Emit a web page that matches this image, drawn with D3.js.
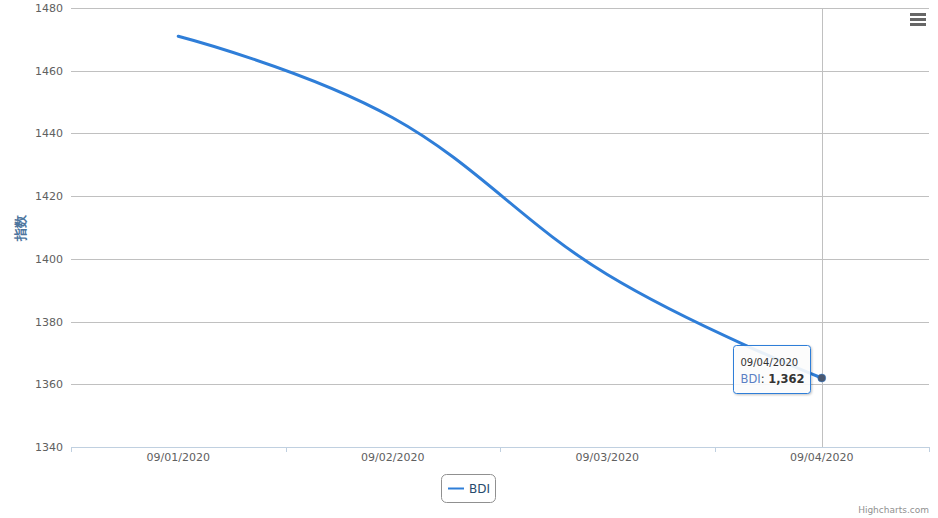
<!DOCTYPE html>
<html><head><meta charset="utf-8">
<script src="https://cdn.jsdelivr.net/npm/d3@7"></script>
<style>body{margin:0;background:#fff}svg{display:block;font-family:"DejaVu Sans",Verdana,Arial,sans-serif}</style>
</head><body>
<svg id="c" width="938" height="518"></svg>
<script>
const categories = ["09/01/2020","09/02/2020","09/03/2020","09/04/2020"];
const values = [1471, 1445, 1395, 1362];
const yTicks = [1340,1360,1380,1400,1420,1440,1460,1480];
const seriesName = "BDI";
const yTitle = "指数";

const W=938,H=518, L=71, R=929, T=8, B=447;
const svg=d3.select("#c");
const x=d3.scaleBand().domain(categories).range([L,R]);
const y=d3.scaleLinear().domain([1340,1480]).range([B,T]);
const cx=c=>x(c)+x.bandwidth()/2;

// grid
svg.append("g").selectAll("line").data(yTicks).join("line")
 .attr("x1",L).attr("x2",R).attr("y1",d=>Math.round(y(d))+0.5).attr("y2",d=>Math.round(y(d))+0.5)
 .attr("stroke","#C0C0C0").attr("stroke-width",1);
// y labels
svg.append("g").selectAll("text").data(yTicks).join("text")
 .attr("x",L-8).attr("y",d=>y(d)+4).attr("text-anchor","end")
 .attr("font-size",11).attr("fill","#606060").text(d=>d);
// y title
svg.append("text").attr("transform",`translate(${25},${(T+B)/2}) rotate(-90)`)
 .attr("text-anchor","middle").attr("font-size",13).attr("font-weight","bold").attr("fill","#4d759e").text(yTitle);

// x axis line & ticks
svg.append("line").attr("x1",L).attr("x2",R).attr("y1",B+0.5).attr("y2",B+0.5).attr("stroke","#C0D0E0");
const bounds=categories.map(c=>x(c)).concat([R]);
svg.append("g").selectAll("line").data(bounds).join("line")
 .attr("x1",d=>Math.round(d)+0.5).attr("x2",d=>Math.round(d)+0.5).attr("y1",B).attr("y2",B+5).attr("stroke","#C0D0E0");
svg.append("g").selectAll("text").data(categories).join("text")
 .attr("x",d=>cx(d)).attr("y",B+14).attr("text-anchor","middle").attr("font-size",11).attr("fill","#606060").text(d=>d);

// crosshair
const last=categories.length-1;
svg.append("line").attr("x1",Math.round(cx(categories[last]))+0.5).attr("x2",Math.round(cx(categories[last]))+0.5)
 .attr("y1",T).attr("y2",B).attr("stroke","#C0C0C0").attr("stroke-width",1);

// Highcharts-like spline
const pts=categories.map((c,i)=>({x:cx(c),y:y(values[i])}));
const sm=1.5, den=sm+1;
pts.forEach((p,i)=>{
  if(i>0 && i<pts.length-1){
    const a=pts[i-1], n=pts[i+1];
    let lx=(sm*p.x+a.x)/den, ly=(sm*p.y+a.y)/den, rx=(sm*p.x+n.x)/den, ry=(sm*p.y+n.y)/den;
    const corr=((ry-ly)*(rx-p.x))/(rx-lx)+p.y-ry;
    ly+=corr; ry+=corr;
    p.lx=lx;p.ly=ly;p.rx=rx;p.ry=ry;
  }
});
const path=d3.path();
pts.forEach((p,i)=>{
  if(i===0){path.moveTo(p.x,p.y);return;}
  const a=pts[i-1];
  path.bezierCurveTo(a.rx??a.x, a.ry??a.y, p.lx??p.x, p.ly??p.y, p.x, p.y);
});
svg.append("path").attr("d",path.toString()).attr("fill","none").attr("stroke","#2f7ed8")
 .attr("stroke-width",3).attr("stroke-linejoin","round").attr("stroke-linecap","round");

// hover marker
const lp=pts[last];
svg.append("circle").attr("cx",lp.x).attr("cy",lp.y).attr("r",4).attr("fill","#4a5870").attr("stroke","#2f7ed8").attr("stroke-width",0.5);

// tooltip
const tx=733.5, ty=345.5, tw=77, th=48;
const defs=svg.append("defs");
const f=defs.append("filter").attr("id","sh").attr("x","-20%").attr("y","-20%").attr("width","150%").attr("height","150%");
f.append("feDropShadow").attr("dx",1).attr("dy",1).attr("stdDeviation",1.2).attr("flood-color","#000").attr("flood-opacity",0.25);
svg.append("rect").attr("x",tx).attr("y",ty).attr("width",tw).attr("height",th).attr("rx",3)
 .attr("fill","rgba(255,255,255,0.88)").attr("stroke","#2f7ed8").attr("stroke-width",1).attr("filter","url(#sh)");
svg.append("text").attr("x",tx+7).attr("y",ty+20).attr("font-size",10).attr("fill","#333").text(categories[last]);
const t2=svg.append("text").attr("x",tx+7).attr("y",ty+37).attr("font-size",11.5).attr("fill","#333");
t2.append("tspan").attr("fill","#5b7fc4").text(seriesName);
t2.append("tspan").text(": ");
t2.append("tspan").attr("font-weight","bold").text(d3.format(",")(values[last]));

// legend
const lg=svg.append("g");
lg.append("rect").attr("x",441.5).attr("y",474.5).attr("width",54).attr("height",28).attr("rx",5)
 .attr("fill","none").attr("stroke","#909090").attr("stroke-width",1);
lg.append("line").attr("x1",448).attr("x2",464).attr("y1",488.5).attr("y2",488.5).attr("stroke","#2f7ed8").attr("stroke-width",2);
lg.append("text").attr("x",469).attr("y",493).attr("font-size",12).attr("fill","#274b6d").text(seriesName);

// menu icon
svg.append("g").selectAll("line").data([0,1,2]).join("line")
 .attr("x1",910).attr("x2",926).attr("y1",d=>14.5+d*5).attr("y2",d=>14.5+d*5)
 .attr("stroke","#666").attr("stroke-width",3);

// credits
svg.append("text").attr("x",929).attr("y",513).attr("text-anchor","end").attr("font-size",9).attr("fill","#909090").text("Highcharts.com");
</script>
</body></html>
